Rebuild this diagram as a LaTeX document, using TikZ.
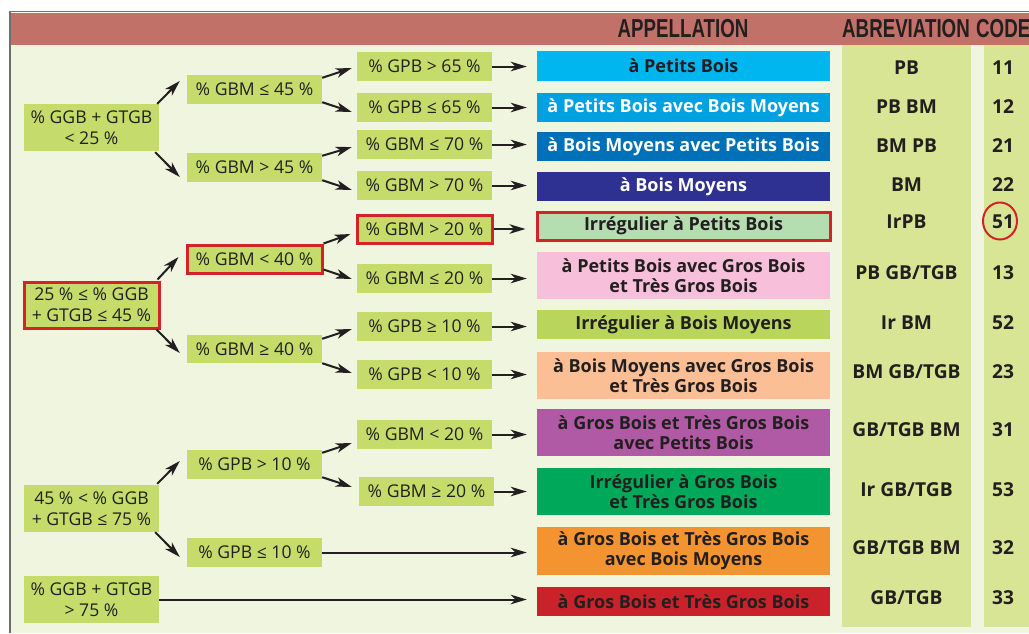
\documentclass[tikz,border=0pt]{standalone}
\usepackage{fontspec}
\setmainfont{Open Sans}
\newfontfamily\hdrfont[FakeStretch=0.72]{Liberation Sans}
\usetikzlibrary{arrows.meta,calc}
\definecolor{hdr}{HTML}{C27168}
\definecolor{bg}{HTML}{F0F5DF}
\definecolor{boxg}{HTML}{C5DC6B}
\definecolor{abg}{HTML}{D7E595}
\definecolor{frm}{HTML}{6D6E70}
\definecolor{txt}{HTML}{231F20}
\definecolor{redb}{HTML}{D2232A}
\definecolor{cA}{HTML}{00B6EE}
\definecolor{cB}{HTML}{00A1E1}
\definecolor{cC}{HTML}{0071B9}
\definecolor{cD}{HTML}{2E3192}
\definecolor{cE}{HTML}{B5DDB0}
\definecolor{cF}{HTML}{F7BFD9}
\definecolor{cG}{HTML}{B9D55B}
\definecolor{cH}{HTML}{FBBE95}
\definecolor{cI}{HTML}{B05AA5}
\definecolor{cJ}{HTML}{00A859}
\definecolor{cK}{HTML}{F49430}
\definecolor{cL}{HTML}{C9222A}
\tikzset{
  cond/.style={fill=boxg, text=txt, inner sep=0pt, align=center,
    minimum width=135pt, minimum height=29pt,
    font=\fontsize{17.6}{21}\selectfont},
  condred/.style={cond, draw=redb, line width=3pt},
  res/.style={inner sep=0pt, align=center, minimum width=293pt,
    minimum height=29pt, text=txt,
    font=\bfseries\fontsize{18}{20}\selectfont},
  lbl/.style={inner sep=0pt, text=txt, font=\bfseries\fontsize{19.2}{20}\selectfont},
  hd/.style={inner sep=0pt, text=txt, font=\hdrfont\bfseries\fontsize{26}{28}\selectfont},
  arr/.style={draw=txt, line width=2pt, -{Stealth[length=16pt,width=9.5pt,inset=4.5pt]}},
}
\begin{document}
\begin{tikzpicture}[x=1pt,y=-1pt]
\useasboundingbox (0,0) rectangle (1029,633);
\clip (0,0) rectangle (1029,633);
% frame and background
\fill[white] (0,0) rectangle (1029,633);
\fill[bg] (11,13) rectangle (1029,633);
\fill[hdr] (11,13.3) rectangle (1029,44.5);
\fill[frm] (9,10.5) rectangle (1029,11.6);
\fill[frm] (9,10.5) rectangle (11,633);
% table columns
\fill[abg] (842,44.5) rectangle (971,627);
\fill[abg] (984,44.5) rectangle (1029,627);
% headers
\node[hd] (hApp) at (683,29) {APPELLATION};
\node[hd] (hAbr) at (906,29) {ABREVIATION};
\node[hd, anchor=west] (hCode) at (976,29) {CODE};
% column 1
\node[cond, minimum height=47pt] (c1a) at (91.5,127.5) {\% GGB + GTGB\\< 25 \%};
\node[condred, minimum height=46pt] (c1b) at (91.5,305) {25 \% ≤ \% GGB\\+ GTGB ≤ 45 \%};
\node[cond, minimum height=47pt] (c1c) at (91.5,508.5) {45 \% < \% GGB\\+ GTGB ≤ 75 \%};
\node[cond, minimum height=47pt] (c1d) at (91.5,599.5) {\% GGB + GTGB\\> 75 \%};
% column 2
\node[cond] (c2a) at (254.5,89.5) {\% GBM ≤ 45 \%};
\node[cond] (c2b) at (254.5,167.5) {\% GBM > 45 \%};
\node[condred, minimum height=28pt] (c2c) at (254.5,259) {\% GBM < 40 \%};
\node[cond, minimum height=28pt] (c2d) at (254.5,349) {\% GBM ≥ 40 \%};
\node[cond] (c2e) at (254.5,464.5) {\% GPB > 10 \%};
\node[cond] (c2f) at (254.5,552.5) {\% GPB ≤ 10 \%};
% column 3
\node[cond] (c3a) at (424.5,66.5) {\% GPB > 65 \%};
\node[cond] (c3b) at (424.5,107.5) {\% GPB ≤ 65 \%};
\node[cond] (c3c) at (424.5,144.5) {\% GBM ≤ 70 \%};
\node[cond] (c3d) at (424.5,185.5) {\% GBM > 70 \%};
\node[condred, minimum height=28pt] (c3e) at (424.5,229) {\% GBM > 20 \%};
\node[cond] (c3f) at (424.5,278.5) {\% GBM ≤ 20 \%};
\node[cond] (c3g) at (424.5,326.5) {\% GPB ≥ 10 \%};
\node[cond] (c3h) at (424.5,374.5) {\% GPB < 10 \%};
\node[cond] (c3i) at (424.5,434.5) {\% GBM < 20 \%};
\node[cond] (c3j) at (426.5,491.5) {\% GBM ≥ 20 \%};
% results
\node[res, fill=cA, minimum height=30pt] (r1) at (683.5,66) {à Petits Bois};
\node[res, fill=cB, text=white] (r2) at (683.5,107.5) {à Petits Bois avec Bois Moyens};
\node[res, fill=cC, text=white] (r3) at (683.5,146.5) {à Bois Moyens avec Petits Bois};
\node[res, fill=cD, text=white] (r4) at (683.5,186.5) {à Bois Moyens};
\node[res, fill=cE, draw=redb, line width=3pt, minimum height=28pt] (r5) at (683.5,226) {Irrégulier à Petits Bois};
\node[res, fill=cF, minimum height=47pt] (r6) at (683.5,275.5) {à Petits Bois avec Gros Bois\\et Très Gros Bois};
\node[res, fill=cG] (r7) at (683.5,324.5) {Irrégulier à Bois Moyens};
\node[res, fill=cH, minimum height=47pt] (r8) at (683.5,375.5) {à Bois Moyens avec Gros Bois\\et Très Gros Bois};
\node[res, fill=cI, minimum height=47pt] (r9) at (683.5,432.5) {à Gros Bois et Très Gros Bois\\avec Petits Bois};
\node[res, fill=cJ, minimum height=47pt] (r10) at (683.5,491.5) {Irrégulier à Gros Bois\\et Très Gros Bois};
\node[res, fill=cK, minimum height=48pt] (r11) at (683.5,551) {à Gros Bois et Très Gros Bois\\avec Bois Moyens};
\node[res, fill=cL] (r12) at (683.5,601.5) {à Gros Bois et Très Gros Bois};
% abbreviations
\node[lbl] (ab1) at (906.5,67.5) {PB};
\node[lbl] (ab2) at (906.5,106.3) {PB BM};
\node[lbl] (ab3) at (906.5,145.7) {BM PB};
\node[lbl] (ab4) at (906.5,184.5) {BM};
\node[lbl] (ab5) at (906.5,222) {IrPB};
\node[lbl] (ab6) at (906.5,272.5) {PB GB/TGB};
\node[lbl] (ab7) at (906.5,323) {Ir BM};
\node[lbl] (ab8) at (906.5,372) {BM GB/TGB};
\node[lbl] (ab9) at (906.5,430) {GB/TGB BM};
\node[lbl] (ab10) at (906.5,489.4) {Ir GB/TGB};
\node[lbl] (ab11) at (906.5,547.4) {GB/TGB BM};
\node[lbl] (ab12) at (906.5,597.4) {GB/TGB};
% codes
\node[lbl] (cd1) at (1003,67.5) {11};
\node[lbl] (cd2) at (1003,106.3) {12};
\node[lbl] (cd3) at (1003,145.7) {21};
\node[lbl] (cd4) at (1003,184.5) {22};
\node[lbl] (cd5) at (1003,222) {51};
\node[lbl] (cd6) at (1003,272.5) {13};
\node[lbl] (cd7) at (1003,323) {52};
\node[lbl] (cd8) at (1003,372) {23};
\node[lbl] (cd9) at (1003,430) {31};
\node[lbl] (cd10) at (1003,489.4) {53};
\node[lbl] (cd11) at (1003,547.4) {32};
\node[lbl] (cd12) at (1003,597.4) {33};
\draw[redb, line width=2pt] (cd5.center) ++(-3,-1) ellipse [x radius=17, y radius=18.5];
% arrows column 1 -> column 2
\draw[arr] ($(c1a.north east)+(-2,0)$) -- ($(c2a.west)+(-7,-8.5)$);
\draw[arr] ($(c1a.south east)+(-4,1)$) -- ($(c2b.west)+(-7,9.5)$);
\draw[arr] ($(c1b.north east)+(-3,-1)$) -- ($(c2c.west)+(-7,-2)$);
\draw[arr] ($(c1b.south east)+(-4,0)$) -- ($(c2d.west)+(-7,4)$);
\draw[arr] ($(c1c.north east)+(-2,-1)$) -- ($(c2e.west)+(-7,-3.5)$);
\draw[arr] ($(c1c.south east)+(-4,0)$) -- ($(c2f.west)+(-7,4.5)$);
% arrows column 2 -> column 3
\draw[arr] ($(c2a.north east)+(0,3)$) -- ($(c3a.west)+(-5,1.5)$);
\draw[arr] ($(c2a.south east)+(0,-2)$) -- ($(c3b.west)+(-5,4.5)$);
\draw[arr] ($(c2b.north east)+(0,3)$) -- ($(c3c.west)+(-5,2.5)$);
\draw[arr] ($(c2b.south east)+(0,-2)$) -- ($(c3d.west)+(-5,4.5)$);
\draw[arr] ($(c2c.north east)+(0,0)$) -- ($(c3e.west)+(-5,5)$);
\draw[arr] ($(c2c.south east)+(0,-5)$) -- ($(c3f.west)+(-5,0.5)$);
\draw[arr] ($(c2d.north east)+(0,4)$) -- ($(c3g.west)+(-5,2.5)$);
\draw[arr] ($(c2d.south east)+(0,0)$) -- ($(c3h.west)+(-5,-1.5)$);
\draw[arr] ($(c2e.north east)+(0,3)$) -- ($(c3i.west)+(-5,8.5)$);
\draw[arr] ($(c2e.south east)+(0,-2)$) -- ($(c3j.west)+(-7,-4.5)$);
% arrows column 3 -> results
\foreach \s/\t in {c3a/r1,c3b/r2,c3c/r3,c3d/r4,c3e/r5,c3f/r6,c3g/r7,c3h/r8,c3i/r9,c3j/r10,c2f/r11,c1d/r12}
  \draw[arr] (\s.east) -- ($(\s.east -| \t.west)+(-10,0)$);
\end{tikzpicture}
\end{document}
